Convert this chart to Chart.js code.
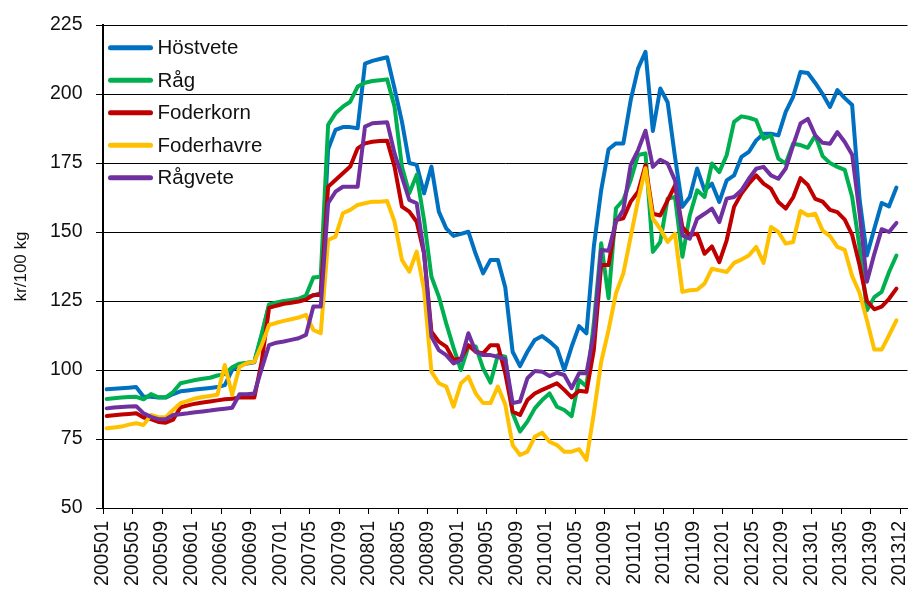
<!DOCTYPE html>
<html>
<head>
<meta charset="utf-8">
<script src="https://cdn.jsdelivr.net/npm/chart.js@4.4.1/dist/chart.umd.min.js"></script>
<style>
  html, body { margin: 0; padding: 0; background: #ffffff; }
  #wrap { width: 912px; height: 590px; position: relative; }
</style>
</head>
<body>
<div id="wrap"><canvas id="chart"></canvas></div>
<script>
// ---- Data (kr/100 kg, monthly 200501–201312) ----
const seriesNames = ['Höstvete', 'Råg', 'Foderkorn', 'Foderhavre', 'Rågvete'];

const hostvete = [
  93.0, 93.2, 93.4, 93.6, 93.8, 90.3, 90.3, 90.0, 90.0, 91.3, 92.3, 92.6,
  92.9, 93.2, 93.5, 93.8, 94.5, 100.0, 101.8, 102.3, 102.8, 112.5, 123.5, 124.2,
  124.8, 125.1, 125.6, 126.3, 127.0, 127.8, 180.0, 187.0, 188.0, 188.0, 187.6, 211.0,
  212.0, 212.7, 213.3, 202.0, 190.0, 175.0, 174.3, 164.0, 173.7, 157.4, 151.3, 148.6,
  149.3, 150.1, 142.0, 135.0, 139.9, 139.9, 130.0, 106.6, 101.4, 106.6, 110.9, 112.3,
  110.3, 107.9, 100.0, 108.5, 115.9, 113.3, 144.7, 165.2, 180.0, 182.1, 182.1, 197.8,
  209.3, 215.3, 186.6, 202.0, 197.0, 177.2, 159.1, 162.7, 173.0, 165.1, 167.5, 160.9,
  168.7, 170.5, 177.2, 179.0, 183.2, 185.6, 185.6, 185.0, 193.5, 199.0, 208.0, 207.6,
  204.0, 200.0, 195.3, 201.4, 198.5, 196.0, 162.0, 141.5, 151.2, 160.5, 159.3, 166.1
];
const rag = [
  89.5, 89.8, 90.0, 90.2, 90.3, 89.4, 91.3, 90.1, 90.1, 92.0, 95.2, 95.8,
  96.4, 96.8, 97.2, 98.0, 98.5, 101.0, 102.3, 102.6, 103.0, 113.0, 123.8, 124.5,
  125.0, 125.4, 125.8, 127.0, 133.5, 133.8, 188.8, 193.0, 195.4, 197.2, 202.7, 204.1,
  204.7, 205.0, 205.3, 195.4, 173.7, 164.0, 170.7, 154.3, 133.8, 126.6, 116.9, 108.0,
  100.0, 108.5, 108.5, 100.6, 95.4, 105.4, 104.8, 84.3, 77.7, 81.3, 86.1, 89.1,
  91.5, 86.7, 85.5, 83.3, 96.4, 94.0, 116.9, 145.9, 126.0, 158.6, 161.6, 168.8,
  177.9, 178.5, 142.8, 146.4, 162.1, 162.7, 141.0, 156.0, 165.1, 162.7, 174.8, 171.7,
  177.8, 189.9, 191.9, 191.4, 190.5, 183.8, 185.0, 176.6, 174.8, 182.0, 181.5, 180.5,
  185.0, 177.5, 175.0, 173.6, 172.5, 162.7, 144.6, 121.6, 126.4, 128.3, 135.5, 141.5
];
const foderkorn = [
  83.3, 83.6, 83.9, 84.1, 84.3, 82.8, 82.2, 81.2, 80.9, 82.0, 86.5, 87.2,
  87.8, 88.2, 88.6, 89.0, 89.4, 89.6, 90.0, 90.0, 90.0, 103.0, 122.5, 123.3,
  124.0, 124.4, 124.8, 125.5, 127.2, 127.2, 166.4, 168.8, 171.3, 173.7, 180.3, 182.1,
  182.7, 183.0, 183.1, 173.7, 159.2, 157.4, 153.7, 142.3, 113.9, 110.3, 108.5, 103.6,
  104.2, 109.0, 106.6, 106.0, 109.0, 109.0, 98.8, 84.9, 83.7, 89.1, 91.5, 92.8,
  94.0, 95.2, 92.8, 90.1, 92.5, 92.1, 107.2, 138.0, 138.0, 154.3, 155.0, 161.0,
  164.6, 174.3, 156.6, 156.0, 161.5, 166.9, 151.8, 148.8, 149.4, 142.1, 144.8, 139.1,
  147.0, 159.1, 163.9, 167.5, 170.5, 167.5, 165.7, 160.9, 158.5, 162.5, 169.5, 167.0,
  162.0, 161.0, 158.0, 157.2, 154.5, 149.0, 138.0, 125.0, 122.0, 123.0, 125.8, 129.5
];
const foderhavre = [
  78.9, 79.2, 79.5, 80.2, 80.7, 80.1, 83.7, 82.9, 82.9, 85.5, 88.0, 88.8,
  89.7, 90.2, 90.6, 91.0, 101.8, 91.0, 101.2, 102.5, 103.0, 109.0, 116.3, 117.1,
  117.8, 118.4, 119.0, 120.0, 114.5, 113.3, 147.1, 148.3, 156.8, 158.0, 159.8, 160.4,
  161.0, 161.0, 161.2, 153.7, 139.9, 135.6, 142.9, 129.0, 99.4, 95.2, 94.0, 86.7,
  95.2, 97.6, 91.5, 88.0, 88.0, 94.0, 87.5, 72.8, 69.2, 70.4, 75.8, 77.3,
  74.0, 72.8, 70.4, 70.4, 71.3, 67.4, 84.3, 103.0, 114.5, 127.8, 135.0, 148.3,
  161.6, 173.1, 154.8, 151.2, 146.4, 149.4, 128.3, 128.9, 129.1, 131.3, 136.7, 136.1,
  135.5, 138.8, 140.0, 141.5, 144.6, 138.8, 151.8, 150.0, 145.8, 146.4, 157.6, 156.0,
  156.6, 150.5, 148.5, 144.6, 143.5, 134.0, 128.0, 118.0, 107.4, 107.4, 112.6, 118.0
];
const ragvete = [
  86.1, 86.4, 86.6, 86.8, 86.9, 84.3, 83.0, 82.2, 82.2, 83.7, 84.0, 84.3,
  84.7, 85.0, 85.3, 85.7, 86.0, 86.3, 91.2, 91.2, 91.5, 100.5, 109.0, 109.9,
  110.3, 110.9, 111.5, 112.7, 123.0, 123.0, 160.4, 164.6, 166.4, 166.4, 166.4, 188.2,
  189.4, 189.6, 189.8, 178.5, 170.0, 161.6, 160.4, 142.3, 112.1, 107.2, 105.4, 102.4,
  103.6, 113.3, 106.6, 105.4, 105.4, 104.8, 103.9, 88.0, 88.6, 97.0, 99.6, 99.4,
  97.8, 99.0, 98.2, 93.4, 98.8, 98.8, 113.3, 143.5, 143.2, 153.7, 158.0, 174.3,
  179.7, 186.7, 173.6, 176.2, 174.8, 168.7, 148.8, 147.6, 154.8, 156.6, 158.5, 153.6,
  162.1, 162.7, 165.1, 169.3, 172.9, 173.6, 170.5, 169.3, 173.0, 181.4, 189.3, 191.0,
  185.0, 182.3, 182.0, 186.2, 182.6, 178.0, 157.0, 132.0, 142.0, 151.0, 150.0, 153.3
];

// Month categories 200501 … 201312
const months = [];
for (let y = 2005; y <= 2013; y++) {
  for (let m = 1; m <= 12; m++) months.push(String(y) + (m < 10 ? '0' : '') + m);
}

// Tick labels shown on the x axis (every 4th month, plus the final month)
const tickLabels = [
  '200501','200505','200509','200601','200605','200609','200701','200705','200709',
  '200801','200805','200809','200901','200905','200909','201001','201005','201009',
  '201101','201105','201109','201201','201205','201209','201301','201305','201309','201312'
];
const yTicks = [50, 75, 100, 125, 150, 175, 200, 225];

const colors = ['#0070C0', '#00B050', '#C00000', '#FFC000', '#7030A0'];
const allSeries = [hostvete, rag, foderkorn, foderhavre, ragvete];

const FONT = '"Liberation Sans", Arial, sans-serif';

const datasets = allSeries.map((vals, k) => ({
  label: seriesNames[k],
  data: vals.map((v, i) => ({ x: i, y: v })),
  borderColor: colors[k],
  backgroundColor: colors[k],
  borderWidth: 4,
  pointRadius: 0,
  pointHoverRadius: 0,
  tension: 0,
  fill: false,
  borderJoinStyle: 'round',
  borderCapStyle: 'round',
  order: allSeries.length - 1 - k
}));

const insideLegend = {
  id: 'insideLegend',
  afterDatasetsDraw(chart) {
    const { ctx, chartArea } = chart;
    ctx.save();
    chart.data.datasets.forEach((ds, k) => {
      const y = chartArea.top + 22.7 + k * 32.5;
      const x0 = chartArea.left + 7.5;
      ctx.strokeStyle = ds.borderColor;
      ctx.lineWidth = 5;
      ctx.lineCap = 'round';
      ctx.beginPath();
      ctx.moveTo(x0, y);
      ctx.lineTo(x0 + 40, y);
      ctx.stroke();
      ctx.fillStyle = '#111111';
      ctx.font = '20.5px ' + FONT;
      ctx.textBaseline = 'middle';
      ctx.textAlign = 'left';
      ctx.fillText(ds.label, x0 + 47, y + 1);
    });
    ctx.restore();
  }
};

new Chart(document.getElementById('chart'), {
  type: 'line',
  data: { datasets },
  plugins: [insideLegend],
  options: {
    responsive: true,
    maintainAspectRatio: false,
    animation: false,
    devicePixelRatio: 1,
    layout: { padding: { top: 25, right: 4.5, bottom: 0, left: 0 } },
    plugins: {
      legend: { display: false },
      tooltip: { enabled: false },
      title: { display: false }
    },
    scales: {
      x: {
        type: 'linear',
        bounds: 'data',
        min: -0.5,
        max: 108.5,
        afterBuildTicks(scale) {
          scale.ticks = tickLabels.map((_, k) => ({ value: k * 4 - 0.5 }));
        },
        afterFit(scale) {
          scale.height = 82;
          scale.paddingLeft = 0;
          scale.paddingRight = 0;
        },
        ticks: {
          autoSkip: false,
          minRotation: 90,
          maxRotation: 90,
          padding: 7,
          color: '#111111',
          font: { family: FONT, size: 19.5 },
          callback: (value, index) => tickLabels[index]
        },
        grid: {
          display: true,
          drawOnChartArea: false,
          drawTicks: true,
          tickLength: 6,
          color: '#000000',
          lineWidth: 1
        },
        border: { display: true, color: '#000000', width: 1 }
      },
      y: {
        min: 50,
        max: 225,
        afterBuildTicks(scale) {
          scale.ticks = yTicks.map(v => ({ value: v }));
        },
        afterFit(scale) {
          scale.width = 103;
          scale.paddingTop = 0;
          scale.paddingBottom = 0;
        },
        ticks: {
          padding: 13.5,
          color: '#111111',
          font: { family: FONT, size: 19.5 }
        },
        grid: {
          display: true,
          drawOnChartArea: true,
          drawTicks: true,
          tickLength: 7,
          color: '#000000',
          lineWidth: 1
        },
        border: { display: true, color: '#000000', width: 2 },
        title: {
          display: true,
          text: 'kr/100 kg',
          color: '#111111',
          font: { family: FONT, size: 17 },
          padding: { top: 11, bottom: 0 }
        }
      }
    }
  }
});
</script>
</body>
</html>
